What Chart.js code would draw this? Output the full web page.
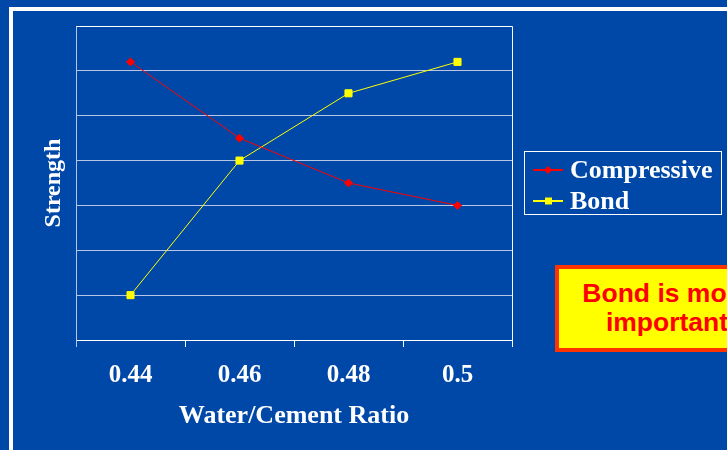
<!DOCTYPE html>
<html>
<head>
<meta charset="utf-8">
<script src="https://cdn.jsdelivr.net/npm/chart.js@4/dist/chart.umd.min.js"></script>
<style>
  html, body {
    margin: 0;
    padding: 0;
    width: 727px;
    height: 450px;
    overflow: hidden;
    background: #0048a8;
  }
  .frame {
    position: absolute;
    left: 9px;
    top: 7px;
    width: 800px;
    height: 500px;
    border-left: 4px solid #ffffff;
    border-top: 4px solid #ffffff;
  }
  #chart {
    position: absolute;
    left: 0;
    top: 0;
  }
  .callout {
    position: absolute;
    left: 555px;
    top: 265px;
    width: 216px;
    height: 69px;
    padding-top: 10px;
    background: #ffff00;
    border: 4px solid #ff3300;
    color: #ff0000;
    font: bold 26.5px "Liberation Sans", Arial, sans-serif;
    line-height: 29px;
    text-align: center;
    white-space: nowrap;
  }
</style>
</head>
<body>
<div class="frame"></div>
<canvas id="chart" width="727" height="450"></canvas>
<div class="callout">Bond is more<br>important</div>

<script>
// Water/cement ratio categories
const ratios = ['0.44', '0.46', '0.48', '0.5'];

// Strength values (relative units)
const compressive = [6.2, 4.5, 3.5, 3.0];
const bond = [1.0, 4.0, 5.5, 6.2];

// y axis range (no tick labels shown)
const yMin = 0;
const yMax = 7;

const SERIF = '"Liberation Serif", "Times New Roman", serif';
const GRID = '#b8c6e6';

/**
 * Plot frame (top/right edge) and the boxed legend on the right
 */
const framePlugin = {
  id: 'frameAndLegend',
  afterDraw(chart) {
    const { ctx, chartArea } = chart;
    ctx.save();
    ctx.strokeStyle = '#ffffff';
    ctx.lineWidth = 1;
    ctx.beginPath();
    ctx.moveTo(Math.round(chartArea.left) + 0.5, Math.round(chartArea.top) + 0.5);
    ctx.lineTo(Math.round(chartArea.right) + 0.5, Math.round(chartArea.top) + 0.5);
    ctx.lineTo(Math.round(chartArea.right) + 0.5, Math.round(chartArea.bottom) + 0.5);
    ctx.stroke();

    // legend box
    ctx.strokeRect(524.5, 151.5, 197, 63);

    chart.data.datasets.forEach((ds, i) => {
      const y = 170 + i * 31;
      ctx.strokeStyle = ds.borderColor;
      ctx.lineWidth = 2;
      ctx.beginPath();
      ctx.moveTo(533, y);
      ctx.lineTo(563, y);
      ctx.stroke();

      ctx.fillStyle = ds.pointBackgroundColor;
      ctx.beginPath();
      if (ds.pointStyle === 'rectRot') {
        ctx.moveTo(548, y - 4);
        ctx.lineTo(552, y);
        ctx.lineTo(548, y + 4);
        ctx.lineTo(544, y);
        ctx.closePath();
      } else {
        ctx.rect(545, y - 3.5, 7, 7);
      }
      ctx.fill();

      ctx.fillStyle = '#ffffff';
      ctx.font = 'bold 26px ' + SERIF;
      ctx.textBaseline = 'middle';
      ctx.textAlign = 'left';
      ctx.fillText(ds.label, 570, y + 1);
    });
    ctx.restore();
  }
};

const ctx = document.getElementById('chart').getContext('2d');

new Chart(ctx, {
  type: 'line',
  data: {
    labels: ratios,
    datasets: [
      {
        label: 'Compressive',
        data: compressive,
        borderColor: '#ff0000',
        backgroundColor: '#ff0000',
        pointBackgroundColor: '#ff0000',
        pointBorderColor: '#ff0000',
        pointStyle: 'rectRot',
        pointRadius: 4,
        borderWidth: 1,
        tension: 0
      },
      {
        label: 'Bond',
        data: bond,
        borderColor: '#ffff00',
        backgroundColor: '#ffff00',
        pointBackgroundColor: '#ffff00',
        pointBorderColor: '#ffff00',
        pointStyle: 'rect',
        pointRadius: 5,
        borderWidth: 1,
        tension: 0
      }
    ]
  },
  options: {
    responsive: false,
    animation: false,
    layout: {
      padding: { left: 0, top: 26, right: 215, bottom: 0 }
    },
    plugins: {
      legend: { display: false }, // legend drawn by framePlugin
      tooltip: { enabled: false }
    },
    scales: {
      x: {
        type: 'category',
        offset: true,
        afterFit: (scale) => { scale.height = 110; },
        border: { color: '#ffffff', width: 1 },
        grid: {
          offset: true,
          drawOnChartArea: false,
          drawTicks: true,
          tickLength: 7,
          tickColor: (c) => (c.index === 0 ? GRID : '#ffffff')
        },
        ticks: {
          color: '#ffffff',
          padding: 14,
          font: { family: SERIF, size: 25, weight: 'bold' }
        },
        title: {
          display: true,
          text: 'Water/Cement Ratio',
          color: '#ffffff',
          padding: { top: 0, bottom: 18 },
          font: { family: SERIF, size: 26, weight: 'bold' }
        }
      },
      y: {
        min: yMin,
        max: yMax,
        afterFit: (scale) => { scale.width = 76; },
        border: { color: GRID, width: 1 },
        grid: {
          drawTicks: false,
          color: (c) => (c.tick && c.tick.value === yMax ? '#ffffff' : GRID)
        },
        ticks: {
          display: false,
          stepSize: 1
        },
        title: {
          display: true,
          text: 'Strength',
          color: '#ffffff',
          padding: { top: 39, bottom: 0 },
          font: { family: SERIF, size: 24, weight: 'bold' }
        }
      }
    }
  },
  plugins: [framePlugin]
});
</script>
</body>
</html>
